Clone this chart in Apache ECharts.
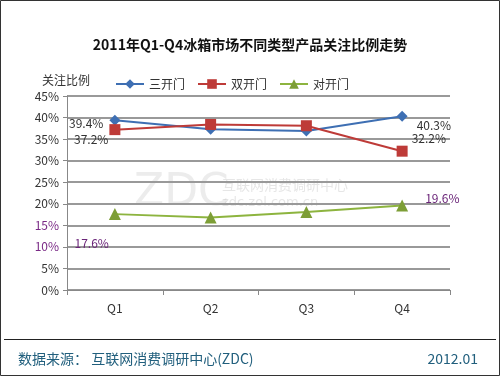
<!DOCTYPE html>
<html>
<head>
<meta charset="utf-8">
<script src="https://cdn.jsdelivr.net/npm/echarts@6/dist/echarts.min.js"></script>
<style>
  html, body { margin: 0; padding: 0; background: #fff; }
  #chart { width: 500px; height: 376px; }
</style>
</head>
<body>
<div id="chart"></div>
<script>
// 数据
const quarters = ['Q1', 'Q2', 'Q3', 'Q4']
const sanKaiMen = [39.4, 37.3, 36.9, 40.3]
const shuangKaiMen = [37.2, 38.4, 38.1, 32.2]
const duiKaiMen = [17.6, 16.8, 18.1, 19.6]

const font = '"Noto Sans CJK SC", "DejaVu Sans", sans-serif'

// 只在首尾两个点显示数值标签
function withLabels(values, first, last) {
  return values.map((v, i) => {
    if (i === 0) return { value: v, label: Object.assign({ show: true }, first) }
    if (i === values.length - 1) return { value: v, label: Object.assign({ show: true }, last) }
    return v
  })
}

const chart = echarts.init(document.getElementById('chart'))
chart.setOption({
  animation: false,
  textStyle: { fontFamily: font },
  title: {
    text: '2011年Q1-Q4冰箱市场不同类型产品关注比例走势',
    left: 'center',
    top: 33,
    textStyle: { fontSize: 14, fontWeight: 'bold', color: '#111', fontFamily: font }
  },
  legend: {
    top: 73,
    left: 110,
    itemWidth: 28,
    itemHeight: 12,
    itemGap: 12,
    textStyle: { fontSize: 12, color: '#333' },
    data: ['三开门', '双开门', '对开门']
  },
  grid: { left: 67, right: 50, top: 96, bottom: 86 },
  xAxis: {
    type: 'category',
    data: quarters,
    boundaryGap: true,
    axisLine: { lineStyle: { color: '#888', width: 1 } },
    axisTick: { show: true, length: 5, lineStyle: { color: '#888' } },
    axisLabel: { color: '#333', fontSize: 12, margin: 12 }
  },
  yAxis: {
    type: 'value',
    min: 0,
    max: 45,
    interval: 5,
    axisLine: { show: true, lineStyle: { color: '#888' } },
    axisTick: { show: true, length: 4, lineStyle: { color: '#888' } },
    axisLabel: {
      fontSize: 12,
      margin: 8,
      formatter: '{value}%',
      color: (v) => (v == 10 || v == 15 ? '#7a2a86' : '#333')
    },
    splitLine: { lineStyle: { color: '#999', width: 2 } }
  },
  graphic: [
    { type: 'rect', shape: { x: 0.5, y: 0.5, width: 499, height: 375 }, style: { fill: 'none', stroke: '#333', lineWidth: 1 }, z: 100 },
    { type: 'text', left: 42, top: 74, style: { text: '关注比例', fontSize: 12, fill: '#333', fontFamily: font } },
    { type: 'text', left: 134, top: 172, z: 0, style: { text: 'ZDC', fontSize: 44, fill: 'rgba(200,200,200,0.35)', fontFamily: '"DejaVu Sans"' } },
    { type: 'text', left: 222, top: 178, z: 0, style: { text: '互联网消费调研中心', fontSize: 14, fill: 'rgba(200,200,200,0.45)', fontFamily: font } },
    { type: 'text', left: 222, top: 196, z: 0, style: { text: 'zdc.zol.com.cn', fontSize: 13, fill: 'rgba(200,200,200,0.45)', fontFamily: '"DejaVu Sans"' } },
    { type: 'line', shape: { x1: 4, y1: 339.5, x2: 496, y2: 339.5 }, style: { stroke: '#222', lineWidth: 1 } },
    { type: 'text', left: 18, top: 352, style: { text: '数据来源： 互联网消费调研中心(ZDC)', fontSize: 14, fill: '#215f7d', fontFamily: font } },
    { type: 'text', right: 22, top: 352, style: { text: '2012.01', fontSize: 14, fill: '#215f7d', fontFamily: font } }
  ],
  series: [
    {
      name: '三开门',
      type: 'line',
      data: withLabels(sanKaiMen,
        { position: 'left', offset: [-1, 3] },
        { position: 'right', offset: [4, 9] }),
      symbol: 'diamond',
      symbolSize: 11,
      lineStyle: { color: '#3e6fb3', width: 2 },
      itemStyle: { color: '#3e6fb3' },
      label: { formatter: '{c}%', color: '#333', fontSize: 12 }
    },
    {
      name: '双开门',
      type: 'line',
      data: withLabels(shuangKaiMen,
        { position: 'left', offset: [4, 10] },
        { position: 'right', offset: [-1, -13] }),
      symbol: 'rect',
      symbolSize: 11,
      lineStyle: { color: '#be3b38', width: 2 },
      itemStyle: { color: '#be3b38' },
      label: { formatter: '{c}%', color: '#333', fontSize: 12 }
    },
    {
      name: '对开门',
      type: 'line',
      data: withLabels(duiKaiMen,
        { position: 'left', offset: [5, 29] },
        { position: 'right', offset: [12, -7] }),
      symbol: 'triangle',
      symbolSize: 12,
      lineStyle: { color: '#8db43f', width: 2 },
      itemStyle: { color: '#7d9e36' },
      label: { formatter: '{c}%', color: '#6a2478', fontSize: 12 }
    }
  ]
})
</script>
</body>
</html>
